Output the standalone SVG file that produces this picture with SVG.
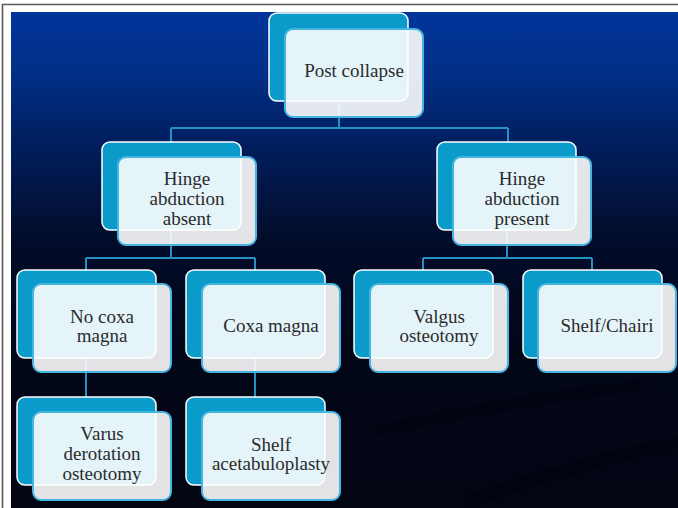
<svg xmlns="http://www.w3.org/2000/svg" width="678" height="508" viewBox="0 0 678 508">
<defs>
<linearGradient id="bg" x1="0" y1="0" x2="0" y2="1">
<stop offset="0" stop-color="#01359b"/>
<stop offset="0.12" stop-color="#012f88"/>
<stop offset="0.28" stop-color="#011d5a"/>
<stop offset="0.45" stop-color="#020d2c"/>
<stop offset="0.65" stop-color="#020719"/>
<stop offset="1" stop-color="#020512"/>
</linearGradient>
<style>
.back{fill:#0a9bcb;stroke:#ffffff;stroke-width:1.5}
.front{fill:#ffffff;fill-opacity:0.89;stroke:#45b4de;stroke-width:2}
.conn{fill:none;stroke:#2690c0;stroke-width:2}
.t{font-family:"Liberation Serif","DejaVu Serif",serif;font-size:19px;fill:#2b2b2b;text-anchor:middle}
</style>
</defs>
<rect x="0" y="0" width="678" height="508" fill="#ffffff"/>
<path d="M2.5 508 V4.5 H678" fill="none" stroke="#5a5a5a" stroke-width="1.6"/>
<rect x="11" y="12" width="667" height="496" fill="url(#bg)"/>
<g opacity="0.18" fill="none" stroke="#000000" stroke-width="12" stroke-linecap="round">
<path d="M380 430 C470 410 560 395 640 385"/>
<path d="M470 500 C560 470 620 455 690 440"/>
</g>
<g id="connectors" class="conn">
<path d="M339 100 V128 M171 128 H508 M171 128 V142 M508 128 V142"/>
<path d="M171 230 V258 M86 258 H255 M86 258 V270 M255 258 V270"/>
<path d="M507 230 V258 M423 258 H592 M423 258 V270 M592 258 V270"/>
<path d="M86 357 V397 M255 357 V397"/>
</g>
<g id="n-post">
<rect class="back" x="269" y="13" width="139" height="88" rx="8"/>
<rect class="front" x="285" y="29" width="138" height="88" rx="8"/>
<text class="t" x="354" y="77">Post collapse</text>
</g>
<g id="n-absent">
<rect class="back" x="102" y="142" width="139" height="88" rx="8"/>
<rect class="front" x="118" y="157" width="138" height="88" rx="8"/>
<text class="t" x="187" y="185">Hinge</text>
<text class="t" x="187" y="205">abduction</text>
<text class="t" x="187" y="225">absent</text>
</g>
<g id="n-present">
<rect class="back" x="437" y="142" width="139" height="88" rx="8"/>
<rect class="front" x="453" y="157" width="138" height="88" rx="8"/>
<text class="t" x="522" y="185">Hinge</text>
<text class="t" x="522" y="205">abduction</text>
<text class="t" x="522" y="225">present</text>
</g>
<g id="n-nocoxa">
<rect class="back" x="17" y="270" width="139" height="88" rx="8"/>
<rect class="front" x="33" y="284" width="138" height="88" rx="8"/>
<text class="t" x="102" y="323">No coxa</text>
<text class="t" x="102" y="342">magna</text>
</g>
<g id="n-coxa">
<rect class="back" x="186" y="270" width="139" height="88" rx="8"/>
<rect class="front" x="202" y="284" width="138" height="88" rx="8"/>
<text class="t" x="271" y="332">Coxa magna</text>
</g>
<g id="n-valgus">
<rect class="back" x="354" y="270" width="139" height="88" rx="8"/>
<rect class="front" x="370" y="284" width="138" height="88" rx="8"/>
<text class="t" x="439" y="323">Valgus</text>
<text class="t" x="439" y="342">osteotomy</text>
</g>
<g id="n-shelf">
<rect class="back" x="523" y="270" width="139" height="88" rx="8"/>
<rect class="front" x="538" y="284" width="138" height="88" rx="8"/>
<text class="t" x="607" y="332">Shelf/Chairi</text>
</g>
<g id="n-varus">
<rect class="back" x="17" y="397" width="139" height="88" rx="8"/>
<rect class="front" x="33" y="412" width="138" height="88" rx="8"/>
<text class="t" x="102" y="440">Varus</text>
<text class="t" x="102" y="460">derotation</text>
<text class="t" x="102" y="480">osteotomy</text>
</g>
<g id="n-acetab">
<rect class="back" x="186" y="397" width="139" height="88" rx="8"/>
<rect class="front" x="202" y="412" width="138" height="88" rx="8"/>
<text class="t" x="271" y="451">Shelf</text>
<text class="t" x="271" y="470">acetabuloplasty</text>
</g>
</svg>
